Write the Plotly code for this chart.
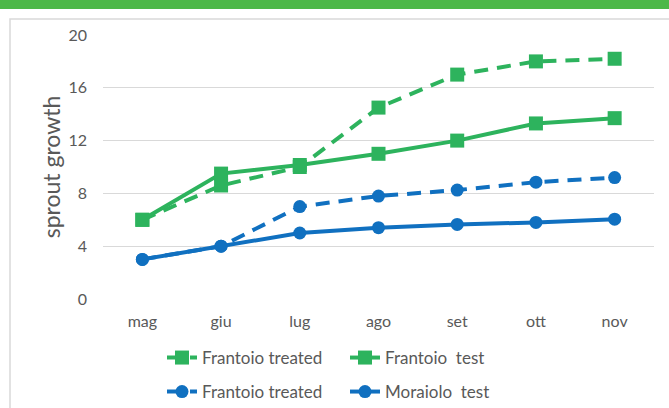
import plotly.graph_objects as go

months = ["mag", "giu", "lug", "ago", "set", "ott", "nov"]
frantoio_treated_g = [6, 8.6, 10, 14.5, 17, 18, 18.2]
frantoio_test = [6, 9.5, 10.15, 11, 12, 13.3, 13.7]
frantoio_treated_b = [3, 4, 7, 7.8, 8.25, 8.85, 9.2]
moraiolo_test = [3, 4, 5, 5.4, 5.65, 5.8, 6.05]
y_ticks = [0, 4, 8, 12, 16, 20]

GREEN = "#2db35d"
BLUE = "#1070c0"
TEXT = "#595959"
FONT = "Lato"

W, H = 669, 408
L, R, T, B = 103, 15, 35, 109
PW = W - L - R
PH = H - T - B

def px(x):
    return (x - L) / PW

def py(y):
    return (H - B - y) / PH

fig = go.Figure()
fig.add_trace(go.Scatter(x=months, y=frantoio_treated_g, name="Frantoio treated",
                         mode="lines+markers", legend="legend",
                         line=dict(color=GREEN, width=4, dash="14px,9px"),
                         marker=dict(symbol="square", size=14, color=GREEN)))
fig.add_trace(go.Scatter(x=months, y=frantoio_test, name="Frantoio  test",
                         mode="lines+markers", legend="legend",
                         line=dict(color=GREEN, width=4),
                         marker=dict(symbol="square", size=14, color=GREEN)))
fig.add_trace(go.Scatter(x=months, y=frantoio_treated_b, name="Frantoio treated",
                         mode="lines+markers", legend="legend2",
                         line=dict(color=BLUE, width=4, dash="14px,9px"),
                         marker=dict(symbol="circle", size=13, color=BLUE)))
fig.add_trace(go.Scatter(x=months, y=moraiolo_test, name="Moraiolo  test",
                         mode="lines+markers", legend="legend2",
                         line=dict(color=BLUE, width=4),
                         marker=dict(symbol="circle", size=13, color=BLUE)))

legend_common = dict(orientation="h", xanchor="left", yanchor="middle",
                     font=dict(family=FONT, size=17, color=TEXT),
                     bgcolor="rgba(0,0,0,0)", entrywidth=138, entrywidthmode="pixels",
                     itemwidth=30, tracegroupgap=0)

fig.update_layout(
    width=W, height=H,
    margin=dict(l=L, r=R, t=T, b=B, autoexpand=False),
    paper_bgcolor="white", plot_bgcolor="white",
    font=dict(family=FONT, color=TEXT),
    xaxis=dict(type="category", showgrid=False, zeroline=False, showline=False,
               ticks="", tickfont=dict(family=FONT, size=16, color=TEXT),
               range=[-0.5, 6.5], fixedrange=True, ticklabelstandoff=11),
    yaxis=dict(range=[0, 20], tickvals=y_ticks, showgrid=True, gridcolor="#d9d9d9",
               gridwidth=1, zeroline=False, showline=False, ticks="",
               tickfont=dict(family=FONT, size=16, color=TEXT),
               title=dict(text="sprout growth", font=dict(family=FONT, size=23, color=TEXT),
                          standoff=1),
               ticklabelstandoff=15),
    legend=dict(x=px(162), y=py(358), **legend_common),
    legend2=dict(x=px(162), y=py(392), **legend_common),
    shapes=[
        dict(type="rect", xref="paper", yref="paper",
             x0=px(0), x1=px(W), y0=py(9), y1=py(0),
             fillcolor="#4db848", line=dict(width=0), layer="above"),
        dict(type="rect", xref="paper", yref="paper",
             x0=px(10), x1=px(W + 20), y0=py(H + 20), y1=py(19),
             fillcolor="rgba(0,0,0,0)", line=dict(color="#d9d9d9", width=1.5), layer="below"),
    ],
)

fig.write_html("out.html", config={"displayModeBar": False},
               post_script="document.body.style.margin='0';document.body.style.overflow='hidden';")
